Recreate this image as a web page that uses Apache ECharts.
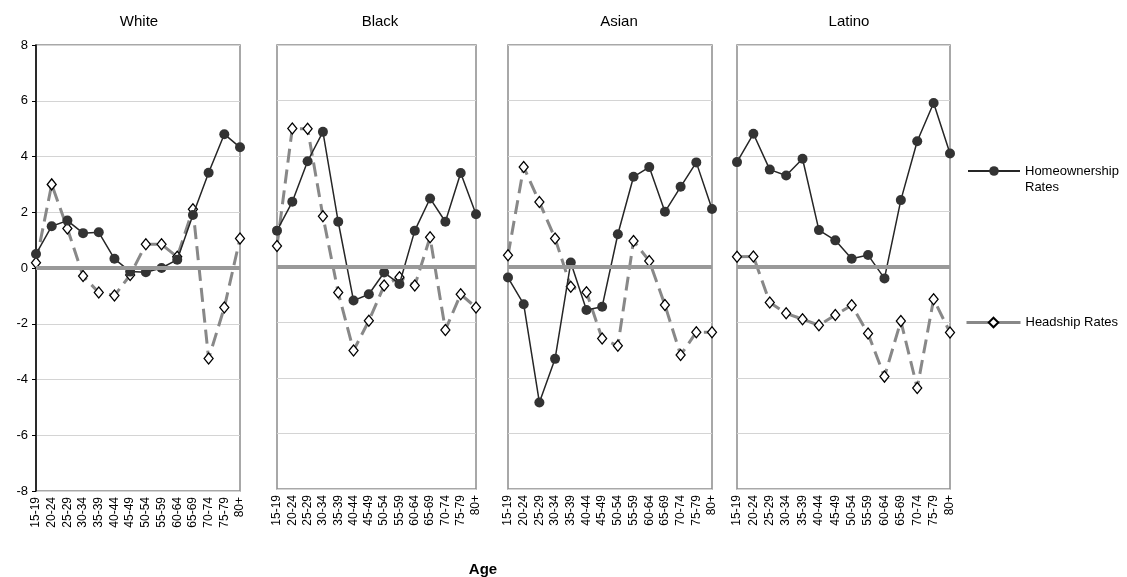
<!DOCTYPE html>
<html>
<head>
<meta charset="utf-8">
<script src="https://cdn.jsdelivr.net/npm/echarts@6/dist/echarts.min.js"></script>
<style>
  html, body { margin: 0; padding: 0; background: #fff; }
  #chart { width: 1127px; height: 577px; }
</style>
</head>
<body>
<div id="chart"></div>
<script>
const ageGroups = ["15-19", "20-24", "25-29", "30-34", "35-39", "40-44", "45-49",
  "50-54", "55-59", "60-64", "65-69", "70-74", "75-79", "80+"];
const panelNames = ["White", "Black", "Asian", "Latino"];

// homeownership rates per group
const ownWhite = [0.5, 1.5, 1.7, 1.25, 1.28, 0.33, -0.13, -0.15, 0.0, 0.3, 1.9, 3.42, 4.8, 4.33];
const ownBlack = [1.31, 2.35, 3.81, 4.87, 1.63, -1.21, -0.98, -0.2, -0.61, 1.31, 2.47, 1.63, 3.39, 1.9];
const ownAsian = [-0.38, -1.34, -4.88, -3.31, 0.16, -1.55, -1.43, 1.18, 3.25, 3.6, 1.99, 2.89, 3.77, 2.09];
const ownLatino = [3.78, 4.8, 3.51, 3.3, 3.9, 1.33, 0.96, 0.3, 0.43, -0.41, 2.41, 4.53, 5.91, 4.09];

// headship rates per group
const headWhite = [0.19, 3.0, 1.42, -0.29, -0.88, -0.99, -0.25, 0.85, 0.85, 0.4, 2.11, -3.25, -1.42, 1.06];
const headBlack = [0.76, 4.99, 4.98, 1.83, -0.92, -3.01, -1.94, -0.67, -0.37, -0.67, 1.07, -2.27, -0.98, -1.46];
const headAsian = [0.42, 3.6, 2.34, 1.03, -0.71, -0.91, -2.58, -2.84, 0.94, 0.22, -1.37, -3.17, -2.35, -2.35];
const headLatino = [0.37, 0.38, -1.28, -1.67, -1.88, -2.1, -1.73, -1.38, -2.4, -3.95, -1.95, -4.36, -1.16, -2.36];

const yTicks = { min: -8, max: 8, interval: 2 };

const ownData = [ownWhite, ownBlack, ownAsian, ownLatino];
const headData = [headWhite, headBlack, headAsian, headLatino];

const fontFamily = "Liberation Sans, Arial, sans-serif";
const panels = [
  { left: 36, width: 204, top: 45, height: 446, titleX: 134 },
  { left: 277, width: 199, top: 45, height: 444, titleX: 375 },
  { left: 508, width: 204, top: 45, height: 444, titleX: 614 },
  { left: 737, width: 213, top: 45, height: 444, titleX: 844 },
];

const chart = echarts.init(document.getElementById("chart"));

const grids = panels.map((p) => ({
  left: p.left,
  top: p.top,
  width: p.width,
  height: p.height,
  show: true,
  borderColor: "#8c8c8c",
  borderWidth: 1.5,
  backgroundColor: "#fff",
}));

const xAxes = panels.map((p, i) => ({
  type: "category",
  gridIndex: i,
  data: ageGroups,
  boundaryGap: false,
  axisLine: { show: false },
  axisTick: { show: false },
  splitLine: { show: false },
  axisLabel: {
    rotate: 90,
    interval: 0,
    fontSize: 12,
    color: "#000",
    fontFamily: fontFamily,
    margin: 6,
  },
}));

const yAxes = panels.map((p, i) => ({
  type: "value",
  gridIndex: i,
  min: yTicks.min,
  max: yTicks.max,
  interval: yTicks.interval,
  axisLine: { show: i === 0, lineStyle: { color: "#000", width: 1.5 } },
  axisTick: { show: i === 0, length: 4, lineStyle: { color: "#000" } },
  axisLabel: {
    show: i === 0,
    fontSize: 13,
    color: "#000",
    fontFamily: fontFamily,
    margin: 8,
  },
  splitLine: { show: true, lineStyle: { color: "#d4d4d4", width: 1 } },
}));

const series = [];
panels.forEach((p, i) => {
  // zero reference line
  series.push({
    type: "line",
    xAxisIndex: i,
    yAxisIndex: i,
    data: [],
    z: 1,
    silent: true,
    markLine: {
      silent: true,
      symbol: "none",
      label: { show: false },
      lineStyle: { color: "#999", width: 4, type: "solid" },
      data: [{ yAxis: 0 }],
    },
  });
  series.push({
    name: "Headship Rates",
    type: "line",
    xAxisIndex: i,
    yAxisIndex: i,
    data: headData[i],
    z: 3,
    symbol: "diamond",
    symbolSize: [9, 11],
    lineStyle: { color: "#888", width: 3, type: [14, 7] },
    itemStyle: { color: "#fff", borderColor: "#000", borderWidth: 1.3 },
  });
  series.push({
    name: "Homeownership Rates",
    type: "line",
    xAxisIndex: i,
    yAxisIndex: i,
    data: ownData[i],
    z: 4,
    symbol: "circle",
    symbolSize: 10,
    lineStyle: { color: "#262626", width: 1.5 },
    itemStyle: { color: "#333" },
  });
});

const titles = panels.map((p, i) => ({
  text: panelNames[i],
  left: p.titleX,
  top: 9,
  textAlign: "center",
  textStyle: { fontSize: 15, fontWeight: "normal", color: "#000", fontFamily: fontFamily },
}));
titles.push({
  text: "Age",
  left: 478,
  top: 557,
  textAlign: "center",
  textStyle: { fontSize: 15, fontWeight: "bold", color: "#000", fontFamily: fontFamily },
});

const option = {
  animation: false,
  backgroundColor: "#fff",
  title: titles,
  grid: grids,
  xAxis: xAxes,
  yAxis: yAxes,
  legend: [
    {
      data: ["Homeownership Rates"],
      left: 967,
      top: 147,
      padding: 0,
      itemWidth: 52,
      itemHeight: 12,
      itemGap: 4,
      selectedMode: false,
      // blank first line keeps the icon level with "Homeownership"
      formatter: () => " \nHomeownership\nRates",
      textStyle: { fontSize: 13, color: "#000", fontFamily: fontFamily, lineHeight: 16 },
    },
    {
      data: ["Headship Rates"],
      left: 965,
      top: 316,
      padding: 0,
      itemWidth: 54,
      itemHeight: 12,
      selectedMode: false,
      lineStyle: { type: "solid", width: 3, color: "#888" },
      textStyle: { fontSize: 13, color: "#000", fontFamily: fontFamily },
    },
  ],
  series: series,
};

chart.setOption(option);
</script>
</body>
</html>
